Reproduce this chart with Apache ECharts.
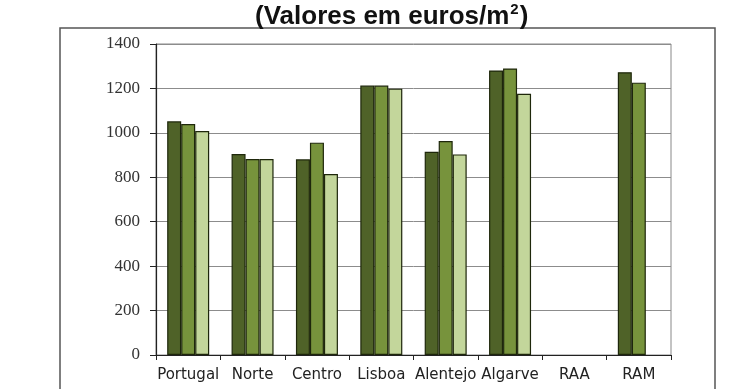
<!DOCTYPE html>
<html>
<head>
<meta charset="utf-8">
<script src="https://cdn.jsdelivr.net/npm/echarts@6/dist/echarts.min.js"></script>
<style>html,body{margin:0;padding:0;background:#fff}#c{width:740px;height:389px}</style>
</head>
<body>
<div id="c"></div>
<script>
var categories = ['Portugal', 'Norte', 'Centro', 'Lisboa', 'Alentejo', 'Algarve', 'RAA', 'RAM'];
var serie1 = [1052, 905, 881, 1213, 915, 1281, null, 1273];
var serie2 = [1040, 882, 956, 1213, 963, 1290, null, 1226];
var serie3 = [1008, 882, 815, 1199, 903, 1176, null, null];
var yTicks = [0, 200, 400, 600, 800, 1000, 1200, 1400];

var colors = ['#4f6228', '#77933c', '#c3d69b'];
function mk(name, data, i) {
  return {
    name: name, type: 'bar', data: data, barWidth: 14, barGap: '0%',
    itemStyle: { color: colors[i], borderColor: '#1e270b', borderWidth: 1.2 },
    emphasis: { disabled: true }
  };
}
var chart = echarts.init(document.getElementById('c'), null, { renderer: 'canvas' });
chart.setOption({
  animation: false,
  backgroundColor: '#fff',
  title: {
    text: '{a|(Valores em euros/m}{s|2}{a|)}',
    left: 250, top: -3,
    textStyle: {
      rich: {
        a: { fontFamily: 'Liberation Sans', fontWeight: 'bold', fontSize: 26, color: '#111', lineHeight: 30 },
        s: { fontFamily: 'Liberation Sans', fontWeight: 'bold', fontSize: 15, color: '#111', verticalAlign: 'top', lineHeight: 15, padding: [0, 1, 0, 1] }
      }
    }
  },
  graphic: [{
    type: 'rect', shape: { x: 60, y: 28, width: 655, height: 400 },
    style: { fill: 'none', stroke: '#555', lineWidth: 1.5 }, silent: true, z: -1
  }],
  grid: { left: 156, right: 69, top: 44, bottom: 34, show: true, borderColor: '#888', borderWidth: 1, backgroundColor: 'transparent' },
  xAxis: {
    type: 'category', data: categories,
    axisLine: { lineStyle: { color: '#222', width: 1.2 } },
    axisTick: { show: true, length: 5, lineStyle: { color: '#222' } },
    axisLabel: { fontFamily: 'DejaVu Sans', fontSize: 15, color: '#222', margin: 13, interval: 0 }
  },
  yAxis: {
    type: 'value', min: yTicks[0], max: yTicks[yTicks.length - 1], interval: yTicks[1] - yTicks[0],
    axisLine: { show: true, lineStyle: { color: '#222', width: 1.2 } },
    axisTick: { show: true, length: 6, lineStyle: { color: '#222' } },
    axisLabel: { fontFamily: 'Liberation Serif', fontSize: 17, color: '#333', margin: 16, formatter: function (v) { return String(v); } },
    splitLine: { lineStyle: { color: '#8c8c8c', width: 1 } }
  },
  series: [mk('Série 1', serie1, 0), mk('Série 2', serie2, 1), mk('Série 3', serie3, 2)]
});
</script>
</body>
</html>
